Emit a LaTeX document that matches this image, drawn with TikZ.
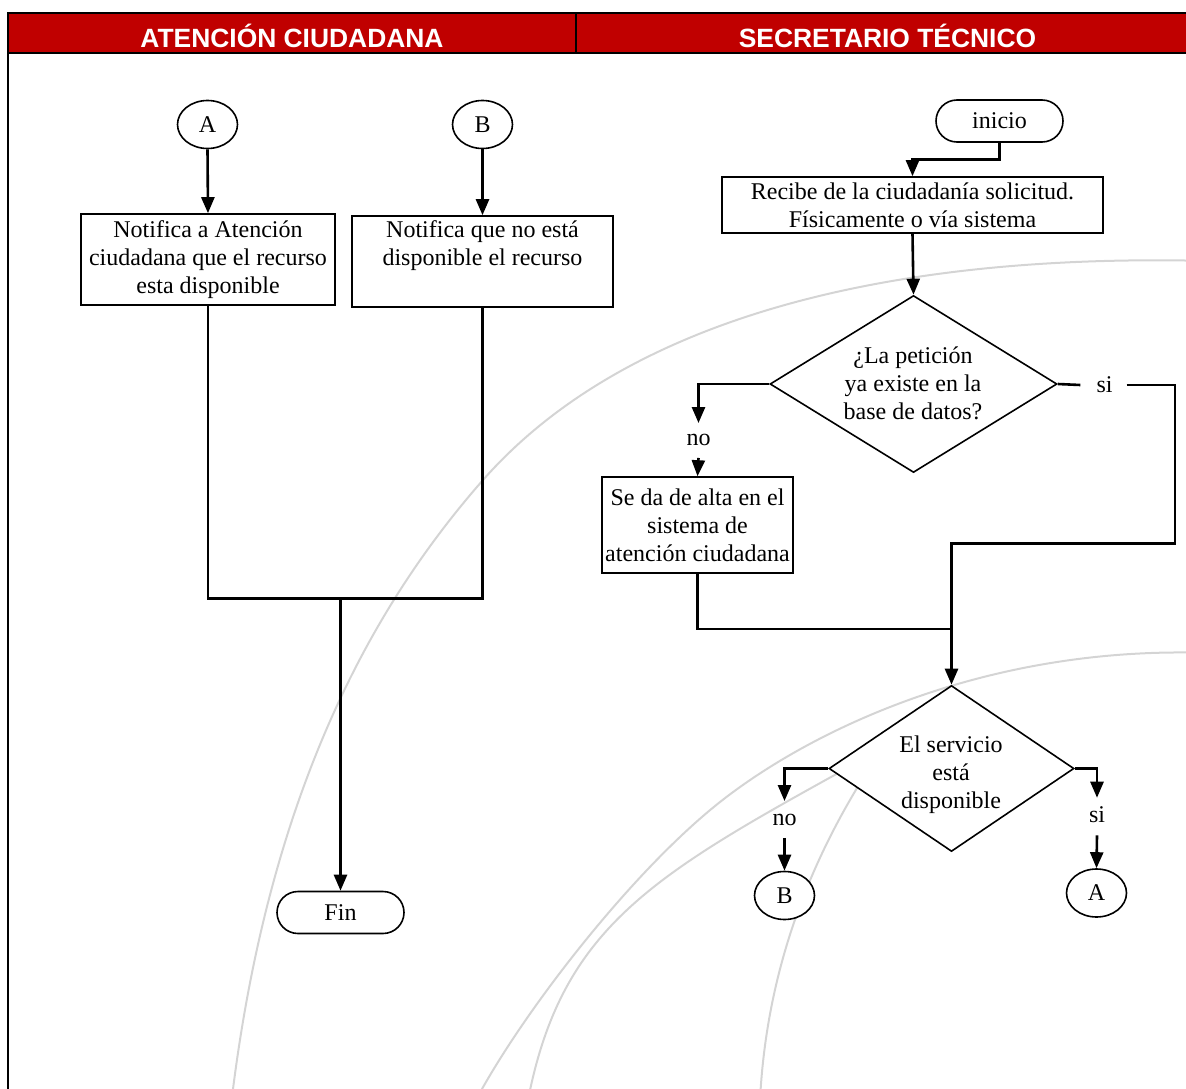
\documentclass[tikz,border=0pt]{standalone}
\usepackage{fontspec}
\setmainfont{Liberation Serif}
\newfontfamily\hdrfont{Liberation Sans}
\usetikzlibrary{arrows.meta,shapes.geometric}
\definecolor{hdrred}{RGB}{192,0,0}
\begin{document}
\begin{tikzpicture}[x=1pt,y=-1pt,
  every node/.style={font=\fontsize{24}{28}\selectfont},
  conn/.style={line width=2.6pt},
  arr/.style={conn,-{Triangle[width=13pt,length=16pt]}},
  box/.style={draw,line width=1.6pt,fill=white,align=center,inner sep=0pt},
  term/.style={draw,line width=1.6pt,fill=white,rounded corners=21pt,minimum width=127pt,minimum height=42pt,inner sep=0pt},
  conector/.style={draw,ellipse,line width=1.6pt,fill=white,minimum width=60pt,minimum height=48pt,inner sep=0pt},
  decision/.style={draw,diamond,line width=1.6pt,fill=white,inner sep=0pt},
  dtext/.style={align=center,inner sep=0pt},
  lbl/.style={fill=white,inner sep=1pt},
  hdr/.style={font=\hdrfont\bfseries\fontsize{26.4}{30}\selectfont,text=white,anchor=base},
  bgarc/.style={draw=black!17,line width=2pt}
]
\useasboundingbox (0,0) rectangle (1186,1089);
% background arcs
\begin{scope}
\clip (0,0) rectangle (1186,1089);
\draw[bgarc] (1210,261) .. controls (860,252) and (615,330) .. (483,480)
             .. controls (371,607.5) and (271,791) .. (233,1089) -- (230,1110);
\draw[bgarc] (1210,653) .. controls (990,645) and (814,728) .. (720,802)
             .. controls (634,870) and (531,1002) .. (482,1089) -- (470,1110);
\draw[bgarc] (880,750) .. controls (662.5,870) and (565,918.6) .. (529,1095);
\draw[bgarc] (880,752) .. controls (824,835) and (767.5,950) .. (760,1100);
\end{scope}
% header
\fill[hdrred] (8,13) rectangle (1190,53);
\draw[line width=2pt] (1190,13) -- (8,13) -- (8,1095);
\draw[line width=2pt] (8,53) -- (1190,53);
\draw[line width=2pt] (576,13) -- (576,53);
\node[hdr] (h1) at (292,47.5) {ATENCIÓN CIUDADANA};
\node[hdr] (h2) at (887.5,47.5) {SECRETARIO TÉCNICO};
% left lane
\node[conector] (A1) at (207.5,124.5) {A};
\node[conector] (B1) at (482.5,124.5) {B};
\node[box,minimum width=254pt,minimum height=91pt] (nA) at (208,259.5) {Notifica a Atención\\ciudadana que el recurso\\esta disponible};
\node[box,minimum width=261pt,minimum height=91pt] (nB) at (482.5,261.5) {Notifica que no está\\disponible el recurso\\\strut};
\node[term] (fin) at (340.5,912.5) {Fin};
% right lane
\node[term] (ini) at (999.5,121) {inicio};
\node[box,minimum width=381pt,minimum height=56pt] (rec) at (912.5,205) {Recibe de la ciudadanía solicitud.\\Físicamente o vía sistema};
\node[decision,minimum width=287pt,minimum height=177pt] (d1) at (913.5,384) {};
\node[dtext] (d1t) at (913,383) {¿La petición\\ya existe en la\\base de datos?};
\node[box,minimum width=191pt,minimum height=96pt] (alta) at (697.5,525) {Se da de alta en el\\sistema de\\atención ciudadana};
\node[decision,minimum width=245pt,minimum height=166pt] (d2) at (951.5,768.5) {};
\node[dtext] (d2t) at (951,775) {El servicio\\está\\disponible};
\node[conector] (B2) at (784.5,895.5) {B};
\node[conector] (A2) at (1096.5,893) {A};
% labels
\node[lbl] (no1) at (698.5,440) {no};
\node[lbl] (si1) at (1104.5,385) {si};
\node[lbl] (no2) at (784.5,820) {no};
\node[lbl] (si2) at (1097,815) {si};
% connectors left
\coordinate (j1) at (340.5,598.5);
\draw[arr] (A1.south) -- (nA.north);
\draw[arr] (B1.south) -- (nB.north);
\draw[conn] (nA.south) |- (j1);
\draw[conn] (nB.south) |- (j1);
\draw[arr] (j1) -- (fin.north);
% connectors right
\draw[arr] (ini.south) -- ++(0,17) -| (rec.north);
\draw[arr] (rec.south) -- (d1.north);
\draw[arr] (d1.west) -| ([yshift=10pt]no1.north);
\draw[arr] ([yshift=-11pt]no1.south) -- (alta.north);
\draw[conn] (d1.east) -- ([xshift=-15pt]si1.west);
\coordinate (c1) at (1175,543.5);
\draw[arr] ([xshift=13pt]si1.east) -| (c1) -| (d2.north);
\coordinate (j2) at (951.5,629);
\draw[conn] (alta.south) |- (j2);
\draw[arr] (d2.west) -| ([yshift=12pt]no2.north);
\draw[arr] ([yshift=-11pt]no2.south) -- (B2.north);
\draw[arr] (d2.east) -| ([yshift=8pt]si2.north);
\draw[arr] ([yshift=-11pt]si2.south) -- (A2.north);
\end{tikzpicture}
\end{document}
